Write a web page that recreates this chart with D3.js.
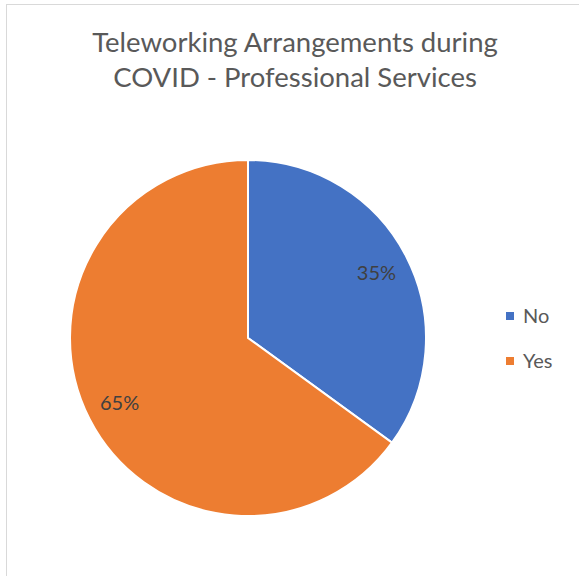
<!DOCTYPE html>
<html>
<head>
<meta charset="utf-8">
<script src="https://cdn.jsdelivr.net/npm/d3@7"></script>
<style>
  html, body { margin: 0; padding: 0; background: #fff; }
  svg { display: block; }
</style>
</head>
<body>
<svg id="chart" width="579" height="576"></svg>
<script>
// Survey answers and their shares
const categories = ["No", "Yes"];
const values = [35, 65];
const colors = ["#4472C4", "#ED7D31"];
const titleLines = ["Teleworking Arrangements during", "COVID - Professional Services"];

const svg = d3.select("#chart");
const font = "Lato, 'Open Sans', sans-serif";

// Chart area frame
svg.append("rect")
  .attr("x", 6.5).attr("y", 4.5)
  .attr("width", 600).attr("height", 600)
  .attr("fill", "#fff")
  .attr("stroke", "#d9d9d9")
  .attr("stroke-width", 1);

// Title
svg.append("g").selectAll("text")
  .data(titleLines)
  .join("text")
  .attr("x", 295)
  .attr("y", (d, i) => 52 + i * 35)
  .attr("text-anchor", "middle")
  .attr("font-family", font)
  .attr("font-size", 27.5)
  .attr("fill", "#595959")
  .text(d => d);

// Pie
const cx = 248, cy = 338, R = 178;
const data = categories.map((c, i) => ({ name: c, value: values[i], color: colors[i] }));
const pie = d3.pie().value(d => d.value).sort(null);
const arcs = pie(data);
const arc = d3.arc().innerRadius(0).outerRadius(R);
const labelArc = d3.arc().innerRadius(R * 0.81).outerRadius(R * 0.81);

const g = svg.append("g").attr("transform", `translate(${cx},${cy})`);
g.selectAll("path")
  .data(arcs)
  .join("path")
  .attr("d", arc)
  .attr("fill", d => d.data.color)
  .attr("stroke", "#fff")
  .attr("stroke-width", 2)
  .attr("stroke-linejoin", "miter");

const total = d3.sum(values);
g.selectAll("text.lbl")
  .data(arcs)
  .join("text")
  .attr("class", "lbl")
  .attr("transform", d => { const [x, y] = labelArc.centroid(d); return `translate(${x},${y})`; })
  .attr("text-anchor", "middle")
  .attr("dy", "0.35em")
  .attr("font-family", font)
  .attr("font-size", 20)
  .attr("fill", "#404040")
  .text(d => Math.round(d.data.value / total * 100) + "%");

// Legend
const legend = svg.append("g").attr("transform", "translate(506,312)");
const items = legend.selectAll("g")
  .data(data)
  .join("g")
  .attr("transform", (d, i) => `translate(0,${i * 45})`);
items.append("rect")
  .attr("width", 8).attr("height", 8)
  .attr("fill", d => d.color);
items.append("text")
  .attr("x", 17).attr("y", 4)
  .attr("dy", "0.35em")
  .attr("font-family", font)
  .attr("font-size", 20)
  .attr("fill", "#595959")
  .text(d => d.name);
</script>
</body>
</html>
